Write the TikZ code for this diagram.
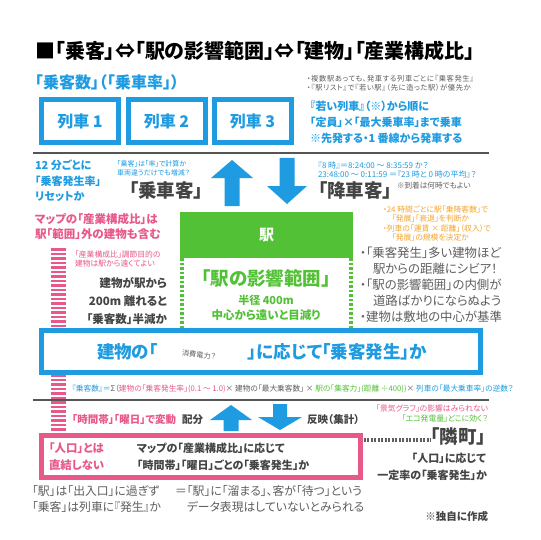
\documentclass[tikz,border=0pt]{standalone}
\usepackage{fontspec}
\setmainfont{Noto Sans CJK JP}[RawFeature=+palt]
\definecolor{cblue}{HTML}{1E9BE1}
\definecolor{cgreen}{HTML}{52C135}
\definecolor{cpink}{HTML}{E8588B}
\definecolor{cgray}{HTML}{444444}
\definecolor{lgray}{HTML}{5E5E5E}
\definecolor{corange}{HTML}{F5A52D}
\definecolor{lineg}{HTML}{555555}
\newcommand\fsz[1]{\fontsize{#1}{#1}\selectfont}
\tikzset{
  txt/.style={inner sep=0pt, outer sep=0pt, anchor=west},
  txe/.style={inner sep=0pt, outer sep=0pt, anchor=east},
  txc/.style={inner sep=0pt, outer sep=0pt},
  bold/.style={font=\bfseries\fsz{#1}},
  thin/.style={font=\fsz{#1}},
  trainbox/.style={draw=cblue, line width=5pt, fill=white, minimum width=77pt, minimum height=43pt, inner sep=0pt, text=cblue, font=\bfseries\fsz{16}},
  sep/.style={draw=lineg, line width=2pt},
  bigarrow/.style={fill=cblue},
}
\begin{document}
\begin{tikzpicture}[x=1pt,y=-1pt]
\useasboundingbox (0,0) rectangle (540,540);
\fill[white] (0,0) rectangle (540,540);

% title
\node[txt, bold=20] (title) at (35,51) {■「乗客」⇔「駅の影響範囲」⇔「建物」「産業構成比」};
\node[txt, bold=16, text=cblue] (sub) at (35,82) {「乗客数」（「乗車率」）};
\node[txt, thin=7.3, text=lgray] (n1) at (307,79) {\addfontfeature{LetterSpace=8}・複数駅あっても、発車する列車ごとに『乗客発生』};
\node[txt, thin=7.3, text=lgray] (n2) at (307,87.5) {\addfontfeature{LetterSpace=8}・『駅リスト』で『若い駅』（先に造った駅）が優先か};

% trains
\node[trainbox] (tr1) at (80,121) {列車 1};
\node[trainbox] (tr2) at (166.5,121) {列車 2};
\node[trainbox] (tr3) at (252.5,121) {列車 3};
\node[txt, bold=11, text=cblue] (r1) at (310,106) {『若い列車』（※）から順に};
\node[txt, bold=11, text=cblue] (r2) at (310,122) {「定員」×「最大乗車率」まで乗車};
\node[txt, bold=11, text=cblue] (r3) at (310,138) {※先発する・1 番線から発車する};

\coordinate (s1a) at (33,153); \coordinate (s1b) at (489,153);
\draw[sep] (s1a) -- (s1b);

% left blue
\node[txt, bold=11, text=cblue] (b1) at (35,165) {12 分ごとに};
\node[txt, bold=11, text=cblue] (b2) at (35,181) {「乗客発生率」};
\node[txt, bold=11, text=cblue] (b3) at (35,197) {リセットか};
\node[txt, thin=7, text=cblue] (q1) at (117,164) {「乗客」は「率」で計算か};
\node[txt, thin=7, text=cblue] (q2) at (117,172.5) {車両違うだけでも増減？};
\node[txt, bold=18.5, text=cgray] (jo) at (129,190) {「乗車客」};

% top arrows
\fill[bigarrow] (232,160) -- (253,178) -- (239.5,178) -- (239.5,206) -- (224.5,206) -- (224.5,178) -- (211,178) -- cycle;
\fill[bigarrow] (279.5,158) -- (294.5,158) -- (294.5,186) -- (307,186) -- (287,204) -- (267,186) -- (279.5,186) -- cycle;

\node[txt, thin=8, text=cblue] (t1) at (318,165) {『8 時』＝8:24:00 ～ 8:35:59 か？};
\node[txt, thin=8, text=cblue] (t2) at (318,174) {23:48:00 ～ 0:11:59 ＝『23 時と 0 時の平均』？};
\node[txt, bold=18.5, text=cgray] (ko) at (318,190) {「降車客」};
\node[txt, thin=7.6, text=lgray] (ko2) at (397,186) {※到着は何時でもよい};

\node[txt, thin=7.8, text=corange] (o1) at (383,210) {・24 時間ごとに駅「乗降客数」で};
\node[txt, thin=7.8, text=corange] (o2) at (392,218.5) {「発展」「衰退」を判断か};
\node[txt, thin=7.8, text=corange] (o3) at (383,229) {・列車の「運賃 × 距離」（収入）で};
\node[txt, thin=7.8, text=corange] (o4) at (392,237.5) {「発展」の規模を決定か};

% left pink
\node[txt, bold=11.5, text=cpink] (p1) at (35,219) {マップの「産業構成比」は};
\node[txt, bold=11.5, text=cpink] (p2) at (35,234) {駅「範囲」外の建物も含む};

% pink striped bar
\coordinate (bar1) at (58,248); \coordinate (bar2) at (58,433);
\draw[cpink, line width=15pt, dash pattern=on 2.5pt off 2pt] (bar1) -- (bar2);

\node[txt, thin=7.8, text=cpink] (p3) at (75,255) {「産業構成比」調節目的の};
\node[txt, thin=7.8, text=cpink] (p4) at (75,263.5) {建物は駅から遠くてよい};
\node[txe, bold=11.5, text=cgray] (g1) at (167,283) {建物が駅から};
\node[txe, bold=11.5, text=cgray] (g2) at (167,301) {200m 離れると};
\node[txe, bold=11.5, text=cgray] (g3) at (167,319) {「乗客数」半減か};

% station
\node[fill=cgreen, minimum width=173pt, minimum height=46pt, inner sep=0pt, text=white, font=\bfseries\fsz{15}] (eki) at (266.5,235) {駅};
\coordinate (dl1) at (182,258); \coordinate (dl2) at (182,329);
\coordinate (dr1) at (351,258); \coordinate (dr2) at (351,329);
\draw[cgreen, line width=4pt, dash pattern=on 2.5pt off 2pt] (dl1) -- (dl2);
\draw[cgreen, line width=4pt, dash pattern=on 2.5pt off 2pt] (dr1) -- (dr2);
\node[txc, bold=18.5, text=cgreen] (ei) at (266,278) {「駅の影響範囲」};
\node[txc, bold=11, text=cgreen] (ei2) at (266,300) {半径 400m};
\node[txc, bold=11.5, text=cgreen] (ei3) at (266,315) {中心から遠いと目減り};

% right list
\node[txt, thin=12.4, text=lgray] (l1) at (360,253) {・「乗客発生」多い建物ほど};
\node[txt, thin=12.4, text=lgray] (l2) at (373,269) {駅からの距離にシビア！};
\node[txt, thin=12.4, text=lgray] (l3) at (360,285) {・「駅の影響範囲」の内側が};
\node[txt, thin=12.4, text=lgray] (l4) at (373,301) {道路ばかりにならぬよう};
\node[txt, thin=12.4, text=lgray] (l5) at (360,317) {・建物は敷地の中心が基準};

% blue box
\node[draw=cblue, line width=5pt, fill=white, minimum width=439pt, minimum height=42pt, inner sep=0pt] (bbox) at (261,351.5) {};
\node[txt, bold=17.5, text=cblue] (bb1) at (97,352) {建物の「};
\node[txe, bold=17.5, text=cblue] (bb2) at (427,352) {」に応じて「乗客発生」か};
\node[txc, thin=7.2, text=lgray, rotate=-6] (bb3) at (199,355) {消費電力？};

% formula
\node[txt, thin=7.7] (form) at (72,389) {{\color{cblue}『乗客数』＝}{\color{lgray}Σ（}{\color{cpink}建物の「乗客発生率」(0.1 ～ 1.0)}{\color{lgray} × 建物の「最大乗客数」 × }{\color{cgreen}駅の「集客力」(距離 ÷400))}{\color{lgray} × }{\color{cblue}列車の「最大乗車率」の逆数？}};

\coordinate (s2a) at (33,400); \coordinate (s2b) at (489,400);
\draw[sep] (s2a) -- (s2b);

% bottom row
\node[txt, bold=10.5, text=cpink] (h1) at (72,420) {「時間帯」「曜日」で変動};
\node[txt, bold=10.5, text=cgray] (h2) at (182,420) {配分};
\node[txt, bold=10.5, text=cgray] (h3) at (307,420) {反映（集計）};
\fill[bigarrow] (231,405) -- (252,420) -- (238.5,420) -- (238.5,431) -- (223.5,431) -- (223.5,420) -- (210,420) -- cycle;
\fill[bigarrow] (273,404) -- (287,404) -- (287,417) -- (302,417) -- (280,430) -- (258,417) -- (273,417) -- cycle;
\node[txe, thin=7.8, text=cpink] (k1) at (488,409) {「景気グラフ」の影響はみられない};
\node[txe, thin=7.8, text=cgreen] (k2) at (488,419) {「エコ発電量」どこに効く？};

% pink box
\node[draw=cpink, line width=5pt, fill=white, minimum width=319pt, minimum height=42pt, inner sep=0pt] (pbox) at (201,456.5) {};
\node[txt, bold=11.4, text=cpink] (pb1) at (49,448) {「人口」とは};
\node[txt, bold=11.4, text=cpink] (pb2) at (49,465) {直結しない};
\node[txt, bold=11, text=cgray] (pb3) at (137,448) {マップの「産業構成比」に応じて};
\node[txt, bold=11, text=cgray] (pb4) at (137,465) {「時間帯」「曜日」ごとの「乗客発生」か};

\node[txe, bold=18.5, text=cgray] (tn) at (486,437) {「隣町」};
\coordinate (dt1) at (363.5,440);
\draw[lgray, line width=3.5pt, dash pattern=on 2pt off 1.5pt] (dt1) -- (tn.west |- dt1);
\node[txe, bold=11, text=cgray] (tn2) at (486,458) {「人口」に応じて};
\node[txe, bold=11, text=cgray] (tn3) at (487,475) {一定率の「乗客発生」か};

% bottom notes
\node[txt, thin=11.8, text=lgray] (e1) at (32,491) {「駅」は「出入口」に過ぎず};
\node[txt, thin=11.8, text=lgray] (e2) at (32,507) {「乗客」は列車に『発生』か};
\node[txt, thin=11.8, text=lgray] (e3) at (175,491) {＝「駅」に「溜まる」、客が「待つ」という};
\node[txt, thin=11.8, text=lgray] (e4) at (187,507) {データ表現はしていないとみられる};
\node[txe, bold=10.5, text=cgray] (own) at (488,516) {※独自に作成};
\end{tikzpicture}
\end{document}
